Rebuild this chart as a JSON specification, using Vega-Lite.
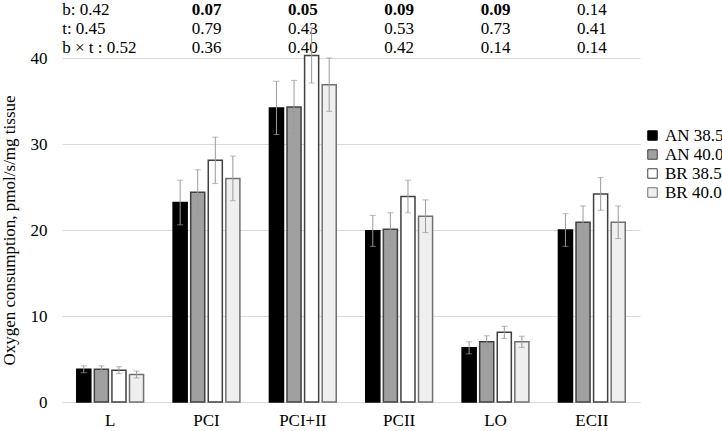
{
  "$schema": "https://vega.github.io/schema/vega-lite/v6.json",
  "padding": 0,
  "bounds": "flush",
  "config": {
    "font": "Liberation Serif",
    "view": {"stroke": null},
    "concat": {"spacing": 0}
  },
  "datasets": {
    "bars": [
      {"cat": "L", "series": "AN 38.5", "value": 3.8, "err": 0.4},
      {"cat": "L", "series": "AN 40.0", "value": 3.8, "err": 0.4},
      {"cat": "L", "series": "BR 38.5", "value": 3.7, "err": 0.4},
      {"cat": "L", "series": "BR 40.0", "value": 3.2, "err": 0.4},
      {"cat": "PCI", "series": "AN 38.5", "value": 23.2, "err": 2.6},
      {"cat": "PCI", "series": "AN 40.0", "value": 24.4, "err": 2.6},
      {"cat": "PCI", "series": "BR 38.5", "value": 28.1, "err": 2.7},
      {"cat": "PCI", "series": "BR 40.0", "value": 26.0, "err": 2.6},
      {"cat": "PCI+II", "series": "AN 38.5", "value": 34.2, "err": 3.1},
      {"cat": "PCI+II", "series": "AN 40.0", "value": 34.3, "err": 3.1},
      {"cat": "PCI+II", "series": "BR 38.5", "value": 40.3, "err": 3.2},
      {"cat": "PCI+II", "series": "BR 40.0", "value": 36.9, "err": 3.1},
      {"cat": "PCII", "series": "AN 38.5", "value": 19.9, "err": 1.8},
      {"cat": "PCII", "series": "AN 40.0", "value": 20.1, "err": 1.9},
      {"cat": "PCII", "series": "BR 38.5", "value": 23.9, "err": 1.9},
      {"cat": "PCII", "series": "BR 40.0", "value": 21.6, "err": 1.9},
      {"cat": "LO", "series": "AN 38.5", "value": 6.3, "err": 0.7},
      {"cat": "LO", "series": "AN 40.0", "value": 7.0, "err": 0.7},
      {"cat": "LO", "series": "BR 38.5", "value": 8.1, "err": 0.7},
      {"cat": "LO", "series": "BR 40.0", "value": 7.0, "err": 0.65},
      {"cat": "ECII", "series": "AN 38.5", "value": 20.0, "err": 1.9},
      {"cat": "ECII", "series": "AN 40.0", "value": 20.9, "err": 1.9},
      {"cat": "ECII", "series": "BR 38.5", "value": 24.2, "err": 1.9},
      {"cat": "ECII", "series": "BR 40.0", "value": 20.9, "err": 1.9}
    ],
    "labels": [
      {"cat": "L", "row": "b", "text": "b: 0.42"},
      {"cat": "L", "row": "t", "text": "t:  0.45"},
      {"cat": "L", "row": "bt", "text": "b × t : 0.52"}
    ],
    "stats": [
      {"cat": "PCI", "row": "b", "text": "0.07", "bold": true},
      {"cat": "PCI+II", "row": "b", "text": "0.05", "bold": true},
      {"cat": "PCII", "row": "b", "text": "0.09", "bold": true},
      {"cat": "LO", "row": "b", "text": "0.09", "bold": true},
      {"cat": "ECII", "row": "b", "text": "0.14", "bold": false},
      {"cat": "PCI", "row": "t", "text": "0.79", "bold": false},
      {"cat": "PCI+II", "row": "t", "text": "0.43", "bold": false},
      {"cat": "PCII", "row": "t", "text": "0.53", "bold": false},
      {"cat": "LO", "row": "t", "text": "0.73", "bold": false},
      {"cat": "ECII", "row": "t", "text": "0.41", "bold": false},
      {"cat": "PCI", "row": "bt", "text": "0.36", "bold": false},
      {"cat": "PCI+II", "row": "bt", "text": "0.40", "bold": false},
      {"cat": "PCII", "row": "bt", "text": "0.42", "bold": false},
      {"cat": "LO", "row": "bt", "text": "0.14", "bold": false},
      {"cat": "ECII", "row": "bt", "text": "0.14", "bold": false}
    ]
  },
  "resolve": {"scale": {"x": "shared"}},
  "vconcat": [
    {
      "width": 578,
      "height": 58,
      "layer": [
        {
          "data": {"name": "labels"},
          "mark": {"type": "text", "align": "left", "dx": -48, "fontSize": 17, "color": "#000000"},
          "encoding": {
            "x": {"field": "cat", "type": "nominal", "axis": null,
                  "scale": {"domain": ["L", "PCI", "PCI+II", "PCII", "LO", "ECII"], "paddingInner": 0.27, "paddingOuter": 0.135}},
            "y": {"field": "row", "type": "nominal", "axis": null,
                  "scale": {"domain": ["b", "t", "bt"], "paddingInner": 0, "paddingOuter": 0}},
            "text": {"field": "text"}
          }
        },
        {
          "data": {"name": "stats"},
          "transform": [{"filter": "datum.bold"}],
          "mark": {"type": "text", "align": "center", "fontSize": 17, "fontWeight": "bold", "color": "#000000"},
          "encoding": {
            "x": {"field": "cat", "type": "nominal", "axis": null},
            "y": {"field": "row", "type": "nominal", "axis": null},
            "text": {"field": "text"}
          }
        },
        {
          "data": {"name": "stats"},
          "transform": [{"filter": "!datum.bold"}],
          "mark": {"type": "text", "align": "center", "fontSize": 17, "color": "#000000"},
          "encoding": {
            "x": {"field": "cat", "type": "nominal", "axis": null},
            "y": {"field": "row", "type": "nominal", "axis": null},
            "text": {"field": "text"}
          }
        }
      ]
    },
    {
      "width": 578,
      "height": 344,
      "data": {"name": "bars"},
      "layer": [
        {
          "mark": {"type": "bar", "strokeWidth": 1.5},
          "encoding": {
            "x": {"field": "cat", "type": "nominal", "title": null,
                  "axis": {"labelAngle": 0, "labelFontSize": 17, "labelColor": "#000000", "labelPadding": 10,
                           "ticks": false, "domainColor": "#d9d9d9", "domainWidth": 1}},
            "xOffset": {"field": "series", "type": "nominal",
                        "scale": {"paddingInner": 0.2, "paddingOuter": 0.1}},
            "y": {"field": "value", "type": "quantitative", "title": "Oxygen consumption,  pmol/s/mg tissue",
                  "scale": {"domain": [0, 40], "nice": false},
                  "axis": {"values": [0, 10, 20, 30, 40], "labelFontSize": 17, "labelColor": "#000000",
                           "labelPadding": 15, "ticks": false, "domain": false, "gridColor": "#d9d9d9",
                           "titleFontSize": 17, "titleFontWeight": "normal", "titleColor": "#000000", "titlePadding": 12}},
            "fill": {"field": "series", "type": "nominal", "title": null,
                     "scale": {"domain": ["AN 38.5", "AN 40.0", "BR 38.5", "BR 40.0"],
                               "range": ["#000000", "#a0a0a0", "#ffffff", "#efefef"]},
                     "legend": {"orient": "none", "legendX": 582, "legendY": 127, "symbolType": "square",
                                "symbolSize": 90, "labelFontSize": 17, "labelColor": "#000000", "rowPadding": 1,
                                "symbolStrokeWidth": 1, "labelOffset": 4}},
            "stroke": {"field": "series", "type": "nominal", "title": null,
                       "scale": {"domain": ["AN 38.5", "AN 40.0", "BR 38.5", "BR 40.0"],
                                 "range": ["#000000", "#404040", "#404040", "#707070"]}}
          }
        },
        {
          "mark": {"type": "errorbar", "ticks": {"size": 6, "color": "#9a9a9a"}, "rule": {"color": "#9a9a9a"}},
          "encoding": {
            "x": {"field": "cat", "type": "nominal"},
            "xOffset": {"field": "series", "type": "nominal"},
            "y": {"field": "value", "type": "quantitative", "title": "Oxygen consumption,  pmol/s/mg tissue"},
            "yError": {"field": "err"}
          }
        }
      ]
    }
  ]
}
